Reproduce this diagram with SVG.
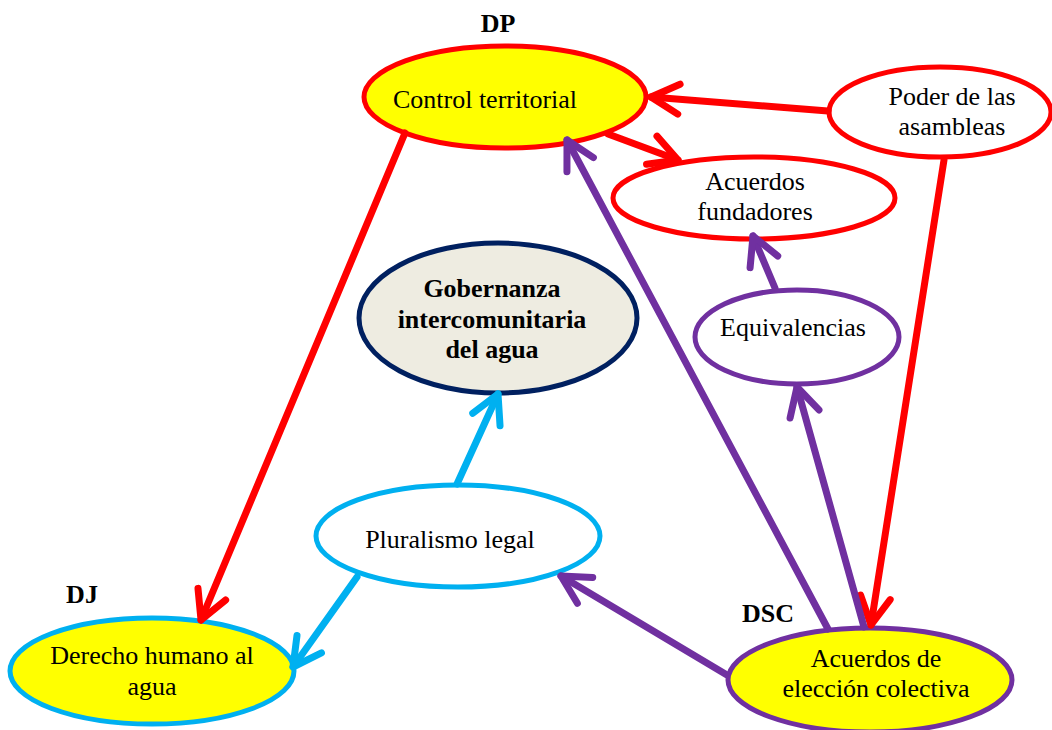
<svg xmlns="http://www.w3.org/2000/svg" width="1052" height="730" viewBox="0 0 1052 730">
<style>
text{font-family:"Liberation Serif","Times New Roman",serif;font-size:26px;fill:#000;text-anchor:middle}
.b{font-weight:bold}
.node ellipse{stroke-width:5}
.red{stroke:#FF0000}
.pur{stroke:#7030A0}
.cya{stroke:#00B0F0}
.conn line{stroke-width:7;stroke-linecap:round;fill:none}
</style>
<defs>
<marker id="aR" markerUnits="userSpaceOnUse" viewBox="-40 -20 50 40" refX="0" refY="0" markerWidth="50" markerHeight="40" orient="auto" overflow="visible"><path d="M-28,-15 L0,0 L-28,15" fill="none" stroke="#FF0000" stroke-width="7" stroke-linecap="round" stroke-linejoin="round"/></marker>
<marker id="aP" markerUnits="userSpaceOnUse" viewBox="-40 -20 50 40" refX="0" refY="0" markerWidth="50" markerHeight="40" orient="auto" overflow="visible"><path d="M-28,-15 L0,0 L-28,15" fill="none" stroke="#7030A0" stroke-width="7" stroke-linecap="round" stroke-linejoin="round"/></marker>
<marker id="aC" markerUnits="userSpaceOnUse" viewBox="-40 -20 50 40" refX="0" refY="0" markerWidth="50" markerHeight="40" orient="auto" overflow="visible"><path d="M-28,-15 L0,0 L-28,15" fill="none" stroke="#00B0F0" stroke-width="7" stroke-linecap="round" stroke-linejoin="round"/></marker>
</defs>
<rect width="1052" height="730" fill="#fff"/>

<g id="nodes">
<g id="control" class="node"><ellipse cx="505" cy="97" rx="141" ry="51" fill="#FFFF00" class="red"/><text x="485" y="108">Control territorial</text></g>
<g id="poder" class="node"><ellipse cx="940" cy="112" rx="111" ry="45" fill="#fff" class="red"/><text x="952" y="105">Poder de las</text><text x="952" y="135">asambleas</text></g>
<g id="fundadores" class="node"><ellipse cx="754" cy="198" rx="141" ry="41" fill="#fff" class="red"/><text x="755" y="190">Acuerdos</text><text x="755" y="220">fundadores</text></g>
<g id="gobernanza" class="node"><ellipse cx="498" cy="318" rx="139" ry="75" fill="#EEECE1" stroke="#002060"/><text class="b" x="492" y="297">Gobernanza</text><text class="b" x="492" y="328">intercomunitaria</text><text class="b" x="492" y="358">del agua</text></g>
<g id="equivalencias" class="node"><ellipse cx="797" cy="337" rx="102" ry="47" fill="#fff" class="pur"/><text x="793" y="336">Equivalencias</text></g>
<g id="pluralismo" class="node"><ellipse cx="458" cy="536" rx="142" ry="51" fill="#fff" class="cya"/><text x="450" y="548">Pluralismo legal</text></g>
<g id="derecho" class="node"><ellipse cx="152" cy="671" rx="142" ry="53" fill="#FFFF00" class="cya"/><text x="152" y="664">Derecho humano al</text><text x="152" y="695">agua</text></g>
<g id="eleccion" class="node"><ellipse cx="870" cy="680" rx="142" ry="52" fill="#FFFF00" class="pur"/><text x="876" y="667">Acuerdos de</text><text x="876" y="697">elección colectiva</text></g>
</g>

<g id="labels">
<text class="b" x="498" y="32">DP</text>
<text class="b" x="82" y="603">DJ</text>
<text class="b" x="768" y="622">DSC</text>
</g>

<g id="connectors" class="conn">
<line class="red" x1="828" y1="111" x2="651" y2="97" marker-end="url(#aR)"/>
<line class="red" x1="608" y1="134" x2="678" y2="160" marker-end="url(#aR)"/>
<line class="red" x1="944" y1="160" x2="871" y2="625" marker-end="url(#aR)"/>
<line class="red" x1="405" y1="133" x2="201" y2="620" marker-end="url(#aR)"/>
<line class="pur" x1="828" y1="629" x2="567" y2="140" marker-end="url(#aP)"/>
<line class="pur" x1="864" y1="627" x2="797" y2="387" marker-end="url(#aP)"/>
<line class="pur" x1="775" y1="288" x2="753" y2="236" marker-end="url(#aP)"/>
<line class="pur" x1="727" y1="675" x2="561" y2="576" marker-end="url(#aP)"/>
<line class="cya" x1="457" y1="484" x2="498" y2="394" marker-end="url(#aC)"/>
<line class="cya" x1="357" y1="577" x2="293" y2="667" marker-end="url(#aC)"/>
</g>
</svg>
